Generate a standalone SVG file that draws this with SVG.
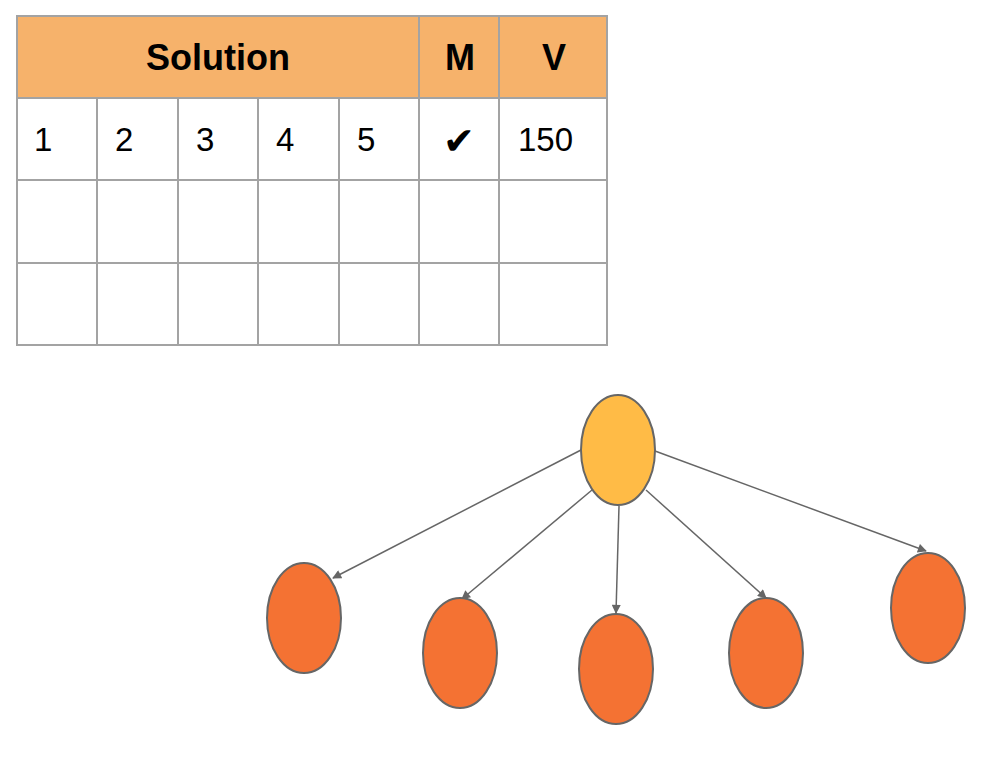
<svg xmlns="http://www.w3.org/2000/svg" width="999" height="768" viewBox="0 0 999 768">
<style>
.grid{stroke:#a3a3a3;stroke-width:2;fill:none}
.hd{font-family:"Liberation Sans",Arial,sans-serif;font-weight:bold;font-size:36px;fill:#000;text-anchor:middle}
.cell{font-family:"Liberation Sans",Arial,sans-serif;font-size:33px;fill:#000}
.root{fill:#ffbb46;stroke:#666;stroke-width:2}
.leaf{fill:#f47233;stroke:#666;stroke-width:2}
.edge{stroke:#666;stroke-width:1.5;fill:none;marker-end:url(#arr)}
</style>
<defs>
<marker id="arr" viewBox="0 0 10 10" refX="9" refY="5" markerWidth="10" markerHeight="9" markerUnits="userSpaceOnUse" orient="auto">
<path d="M0,0 L10,5 L0,10 z" fill="#666"/>
</marker>
</defs>
<rect width="999" height="768" fill="#fff"/>
<g id="table">
<rect x="17" y="16" width="590" height="82" fill="#f6b26b"/>
<rect class="grid" x="17" y="16" width="590" height="329"/>
<path class="grid" d="M17,98H607M17,180H607M17,263H607M419,16V345M499,16V345M97,98V345M178,98V345M258,98V345M339,98V345"/>
<text class="hd" x="218" y="70">Solution</text>
<text class="hd" x="460" y="70">M</text>
<text class="hd" x="554" y="70">V</text>
<text class="cell" x="34" y="151">1</text>
<text class="cell" x="115" y="151">2</text>
<text class="cell" x="196" y="151">3</text>
<text class="cell" x="276" y="151">4</text>
<text class="cell" x="357" y="151">5</text>
<text x="459" y="154" font-family="DejaVu Sans,sans-serif" font-size="38" text-anchor="middle">✔</text>
<text class="cell" x="518" y="151">150</text>
</g>
<g id="connectors">
<line class="edge" x1="581" y1="450" x2="333" y2="578"/>
<line class="edge" x1="592" y1="490" x2="462" y2="599"/>
<line class="edge" x1="619" y1="506" x2="616" y2="613"/>
<line class="edge" x1="646" y1="490" x2="766" y2="598"/>
<line class="edge" x1="655" y1="451" x2="926" y2="551"/>
</g>
<g id="root"><ellipse class="root" cx="618" cy="450" rx="37" ry="55"/></g>
<g id="child1"><ellipse class="leaf" cx="304" cy="618" rx="37" ry="55"/></g>
<g id="child2"><ellipse class="leaf" cx="460" cy="653" rx="37" ry="55"/></g>
<g id="child3"><ellipse class="leaf" cx="616" cy="669" rx="37" ry="55"/></g>
<g id="child4"><ellipse class="leaf" cx="766" cy="653" rx="37" ry="55"/></g>
<g id="child5"><ellipse class="leaf" cx="928" cy="608" rx="37" ry="55"/></g>
</svg>
